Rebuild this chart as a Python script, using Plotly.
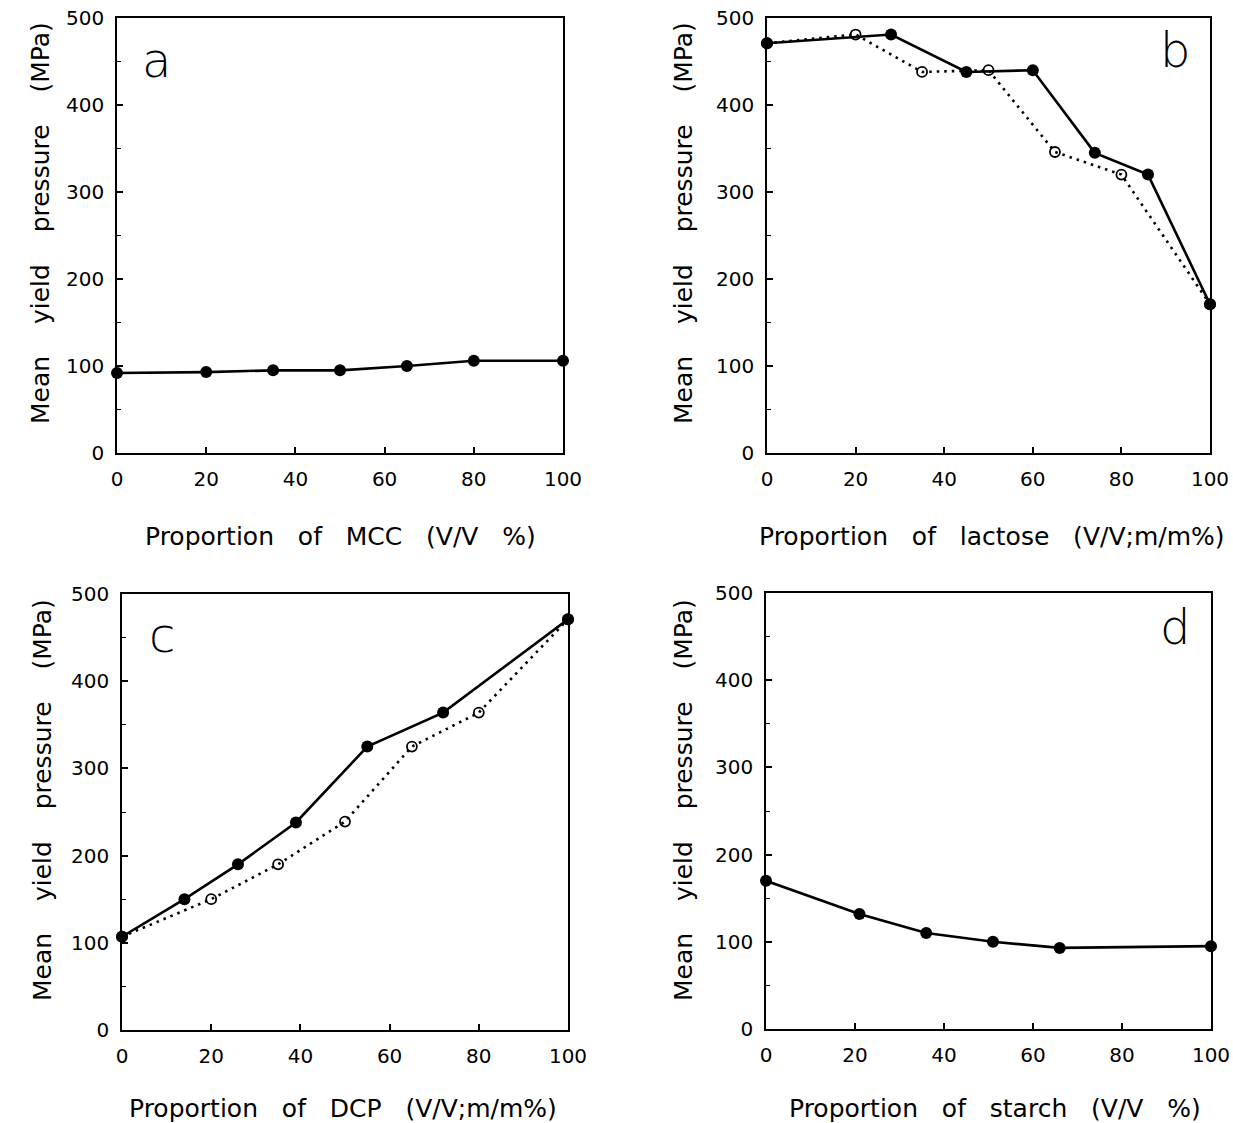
import plotly.graph_objects as go

# ---- data ----
a_x = [0, 20, 35, 50, 65, 80, 100]
a_y = [92, 93, 95, 95, 100, 106, 106]

b_filled_x = [0, 28, 45, 60, 74, 86, 100]
b_filled_y = [471, 481, 438, 440, 345, 320, 171]
b_open_x = [0, 20, 35, 50, 65, 80, 100]
b_open_y = [471, 481, 438, 440, 346, 320, 171]

c_filled_x = [0, 14, 26, 39, 55, 72, 100]
c_filled_y = [107, 150, 190, 238, 325, 364, 471]
c_open_x = [0, 20, 35, 50, 65, 80, 100]
c_open_y = [107, 150, 190, 239, 325, 364, 471]

d_x = [0, 21, 36, 51, 66, 100]
d_y = [170, 132, 110, 100, 93, 95]

x_ticks = [0, 20, 40, 60, 80, 100]
y_ticks = [0, 100, 200, 300, 400, 500]
panel_labels = ["a", "b", "c", "d"]
x_titles = [
    "Proportion of MCC (V/V %)",
    "Proportion of lactose (V/V;m/m%)",
    "Proportion of DCP (V/V;m/m%)",
    "Proportion of starch (V/V %)",
]
y_title = "Mean yield pressure (MPa)"

W, H = 1233, 1123
FONT = "DejaVu Sans"

def spaced(s, n=2):
    return s.replace(" ", " " + "\u00a0" * n)

def px(x):
    return x / W

def py(y):
    return 1 - y / H

fig = go.Figure()

# panel boxes in page pixels: left, right, top, bottom
boxes = [
    (117, 563, 18, 453),
    (767, 1210, 18, 453),
    (122, 568, 594, 1030),
    (766, 1211, 593, 1029),
]

def add_series(i, x, y, filled):
    xa = "x" if i == 0 else f"x{i+1}"
    ya = "y" if i == 0 else f"y{i+1}"
    if filled:
        fig.add_trace(go.Scatter(
            x=x, y=y, xaxis=xa, yaxis=ya, mode="lines+markers",
            line=dict(color="black", width=2.6),
            marker=dict(symbol="circle", size=12, color="black"),
            showlegend=False, cliponaxis=False))
    else:
        fig.add_trace(go.Scatter(
            x=x, y=y, xaxis=xa, yaxis=ya, mode="lines+markers",
            line=dict(color="black", width=2.6, dash="2.5px,5px"),
            marker=dict(symbol="circle-open", size=10, color="black", line=dict(width=1.8, color="black")),
            showlegend=False, cliponaxis=False))

add_series(0, a_x, a_y, True)
add_series(1, b_open_x, b_open_y, False)
add_series(1, b_filled_x, b_filled_y, True)
add_series(2, c_open_x, c_open_y, False)
add_series(2, c_filled_x, c_filled_y, True)
add_series(3, d_x, d_y, True)

layout = dict(
    width=W, height=H, margin=dict(l=0, r=0, t=0, b=0, autoexpand=False),
    paper_bgcolor="white", plot_bgcolor="white",
    font=dict(family=FONT, color="black", size=20),
)

for i, (x0, x1, y0, y1) in enumerate(boxes):
    xk = "xaxis" if i == 0 else f"xaxis{i+1}"
    yk = "yaxis" if i == 0 else f"yaxis{i+1}"
    anc_x = "y" if i == 0 else f"y{i+1}"
    anc_y = "x" if i == 0 else f"x{i+1}"
    layout[xk] = dict(
        domain=[px(x0), px(x1)], anchor=anc_x, range=[0, 100],
        tickvals=x_ticks, ticks="inside", ticklen=6, tickwidth=1.5, tickcolor="black",
        showline=True, linecolor="black", linewidth=1.6, mirror=True,
        showgrid=False, zeroline=False, ticklabelstandoff=7, automargin=False,
        tickfont=dict(size=20, family=FONT),
    )
    layout[yk] = dict(
        domain=[py(y1), py(y0)], anchor=anc_y, range=[0, 500],
        tickvals=y_ticks, ticks="inside", ticklen=6, tickwidth=1.5, tickcolor="black",
        minor=dict(dtick=50, ticks="inside", ticklen=4, tickwidth=1.2, tickcolor="black"),
        showline=True, linecolor="black", linewidth=1.6, mirror=True,
        showgrid=False, zeroline=False, ticklabelstandoff=7, automargin=False,
        tickfont=dict(size=20, family=FONT),
    )

fig.update_layout(**layout)

# axis titles
ytitle_pos = [(40, 223), (683, 223), (42, 800), (683, 800)]
xtitle_pos = [(340, 536), (992, 536), (343, 1108), (995, 1108)]
for (yx, yy), (xx, xy), xt in zip(ytitle_pos, xtitle_pos, x_titles):
    fig.add_annotation(x=px(yx), y=py(yy), xref="paper", yref="paper",
                       text=spaced(y_title, 3), showarrow=False, textangle=-90,
                       font=dict(size=25, family=FONT),
                       xanchor="center", yanchor="middle")
    fig.add_annotation(x=px(xx), y=py(xy), xref="paper", yref="paper",
                       text=spaced(xt, 2), showarrow=False,
                       font=dict(size=25, family=FONT),
                       xanchor="center", yanchor="middle")

label_pos = [(156, 60), (1175, 50), (162, 635), (1175, 627)]
for (lx, ly), lab in zip(label_pos, panel_labels):
    fig.add_annotation(x=px(lx), y=py(ly), xref="paper", yref="paper",
                       text=lab, showarrow=False,
                       font=dict(size=48, family=FONT, weight=200),
                       xanchor="center", yanchor="middle")

fig.write_html("out.html", config={"displayModeBar": False},
               post_script="document.body.style.margin='0';")
